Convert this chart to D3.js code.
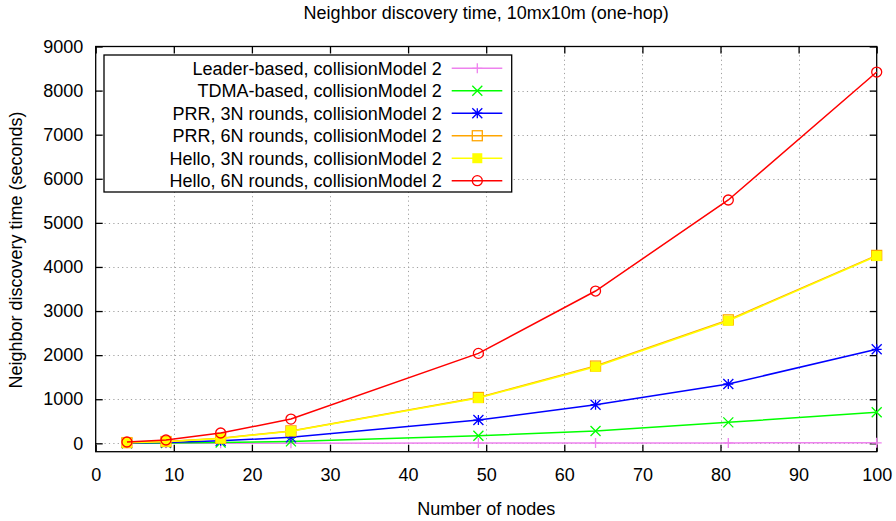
<!DOCTYPE html>
<html>
<head>
<meta charset="utf-8">
<script src="https://cdn.jsdelivr.net/npm/d3@7/dist/d3.min.js"></script>
<style>
  html, body { margin: 0; padding: 0; background: #fff; }
  svg { display: block; }
  text { font-family: "Liberation Sans", Arial, sans-serif; fill: #000; }
</style>
</head>
<body>
<svg id="chart" width="896" height="521"></svg>
<script>
// Number of nodes (square grids 2x2 ... 10x10)
const nodes = [4, 9, 16, 25, 49, 64, 81, 100];

// Discovery time in seconds for each protocol
const leaderBased = [1, 2, 3, 4, 6, 8, 10, 12];
const tdmaBased   = [2, 6, 18, 44, 170, 280, 476, 703];
const prr3N       = [8, 20, 56, 135, 528, 876, 1345, 2132];
const prr6N       = [16, 40, 115, 282, 1040, 1752, 2800, 4262];
const hello3N     = [15, 38, 110, 275, 1027, 1737, 2781, 4248];
const hello6N     = [30, 75, 234, 550, 2040, 3454, 5519, 8421];

const seriesNames = [
  "Leader-based, collisionModel 2",
  "TDMA-based, collisionModel 2",
  "PRR, 3N rounds, collisionModel 2",
  "PRR, 6N rounds, collisionModel 2",
  "Hello, 3N rounds, collisionModel 2",
  "Hello, 6N rounds, collisionModel 2"
];
const seriesValues = [leaderBased, tdmaBased, prr3N, prr6N, hello3N, hello6N];
const seriesColors = ["#ee82ee", "#00ff00", "#0000ff", "#ffa500", "#ffff00", "#ff0000"];
const seriesMarkers = ["plus", "cross", "star", "openSquare", "filledSquare", "openCircle"];

const xTicks = [0, 10, 20, 30, 40, 50, 60, 70, 80, 90, 100];
const yTicks = [0, 1000, 2000, 3000, 4000, 5000, 6000, 7000, 8000, 9000];

const titleText = "Neighbor discovery time, 10mx10m (one-hop)";
const xLabel = "Number of nodes";
const yLabel = "Neighbor discovery time (seconds)";

const svg = d3.select("#chart");
const plot = { left: 95.7, right: 876.7, top: 46.5, bottom: 451.7 };
const plotCenter = (plot.left + plot.right) / 2;

const x = d3.scaleLinear().domain([0, 100]).range([plot.left, plot.right]);
const y = d3.scaleLinear().domain([-190, 9000]).range([plot.bottom, plot.top]);

// dotted grid at the major ticks
const grid = svg.append("g").attr("stroke", "#a0a0a0").attr("stroke-width", 1)
  .attr("stroke-dasharray", "1.2,3.2");
grid.selectAll("line.gx").data(xTicks.slice(1, -1)).join("line")
  .attr("x1", d => Math.round(x(d)) + 0.5).attr("x2", d => Math.round(x(d)) + 0.5)
  .attr("y1", plot.top).attr("y2", plot.bottom);
grid.selectAll("line.gy").data(yTicks.slice(0, -1)).join("line")
  .attr("y1", d => Math.round(y(d)) + 0.5).attr("y2", d => Math.round(y(d)) + 0.5)
  .attr("x1", plot.left).attr("x2", plot.right);

// axes with inward ticks, mirrored on the opposite sides
const tickLen = 7;
const fontSize = 18;
const fmt = d3.format("d");
const xAxis = d3.axisBottom(x).tickValues(xTicks).tickFormat(fmt).tickSizeInner(-tickLen).tickSizeOuter(0).tickPadding(16.5);
const yAxis = d3.axisLeft(y).tickValues(yTicks).tickFormat(fmt).tickSizeInner(-tickLen).tickSizeOuter(0).tickPadding(12.5);
const xTop = d3.axisTop(x).tickValues(xTicks).tickSizeInner(-tickLen).tickSizeOuter(0).tickFormat("");
const yRight = d3.axisRight(y).tickValues(yTicks).tickSizeInner(-tickLen).tickSizeOuter(0).tickFormat("");

function styleAxis(g) {
  g.select(".domain").remove();
  g.selectAll(".tick line").attr("stroke", "#000").attr("stroke-width", 1.3);
  g.selectAll(".tick text").attr("font-size", fontSize)
    .attr("font-family", "Liberation Sans, Arial, sans-serif").attr("fill", "#000");
}
svg.append("g").attr("transform", `translate(0,${plot.bottom})`).call(xAxis).call(styleAxis);
svg.append("g").attr("transform", `translate(${plot.left},0)`).call(yAxis).call(styleAxis);
svg.append("g").attr("transform", `translate(0,${plot.top})`).call(xTop).call(styleAxis);
svg.append("g").attr("transform", `translate(${plot.right},0)`).call(yRight).call(styleAxis);

// plot border
svg.append("rect")
  .attr("x", plot.left).attr("y", plot.top)
  .attr("width", plot.right - plot.left).attr("height", plot.bottom - plot.top)
  .attr("fill", "none").attr("stroke", "#000").attr("stroke-width", 1.3);

// point symbols
function drawMarker(g, type, cx, cy, color) {
  const s = 5;
  if (type === "plus") {
    g.append("path").attr("d", `M${cx - s},${cy}H${cx + s}M${cx},${cy - s}V${cy + s}`)
      .attr("stroke", color).attr("stroke-width", 1.3).attr("fill", "none");
  } else if (type === "cross") {
    g.append("path").attr("d", `M${cx - s},${cy - s}L${cx + s},${cy + s}M${cx - s},${cy + s}L${cx + s},${cy - s}`)
      .attr("stroke", color).attr("stroke-width", 1.3).attr("fill", "none");
  } else if (type === "star") {
    g.append("path").attr("d",
      `M${cx - s},${cy}H${cx + s}M${cx},${cy - s}V${cy + s}M${cx - s},${cy - s}L${cx + s},${cy + s}M${cx - s},${cy + s}L${cx + s},${cy - s}`)
      .attr("stroke", color).attr("stroke-width", 1.3).attr("fill", "none");
  } else if (type === "openSquare") {
    g.append("rect").attr("x", cx - s).attr("y", cy - s).attr("width", 2 * s).attr("height", 2 * s)
      .attr("stroke", color).attr("stroke-width", 1.3).attr("fill", "none");
  } else if (type === "filledSquare") {
    g.append("rect").attr("x", cx - s).attr("y", cy - s).attr("width", 2 * s).attr("height", 2 * s)
      .attr("fill", color);
  } else if (type === "openCircle") {
    g.append("circle").attr("cx", cx).attr("cy", cy).attr("r", s)
      .attr("stroke", color).attr("stroke-width", 1.3).attr("fill", "none");
  }
}

// series lines and points
const line = d3.line().x(d => x(d[0])).y(d => y(d[1]));
seriesValues.forEach((vals, i) => {
  const pts = nodes.map((n, j) => [n, vals[j]]);
  const g = svg.append("g");
  g.append("path").datum(pts).attr("d", line)
    .attr("fill", "none").attr("stroke", seriesColors[i]).attr("stroke-width", 1.5);
  pts.forEach(p => drawMarker(g, seriesMarkers[i], x(p[0]), y(p[1]), seriesColors[i]));
});

// legend
const legend = { left: 104, top: 55, right: 511.7, bottom: 192 };
svg.append("rect")
  .attr("x", legend.left).attr("y", legend.top)
  .attr("width", legend.right - legend.left).attr("height", legend.bottom - legend.top)
  .attr("fill", "#fff").attr("stroke", "#000").attr("stroke-width", 1.3);
const rowY = d3.scaleLinear().domain([0, 5]).range([68.3, 180.7]);
seriesNames.forEach((name, i) => {
  const cy = rowY(i);
  svg.append("text").attr("x", 441.7).attr("y", cy).attr("dy", "0.35em")
    .attr("text-anchor", "end").attr("font-size", fontSize).text(name);
  const g = svg.append("g");
  g.append("line").attr("x1", 451.7).attr("x2", 502.3).attr("y1", cy).attr("y2", cy)
    .attr("stroke", seriesColors[i]).attr("stroke-width", 1.5);
  drawMarker(g, seriesMarkers[i], 477.3, cy, seriesColors[i]);
});

// titles
svg.append("text").attr("x", plotCenter).attr("y", 13).attr("dy", "0.35em")
  .attr("text-anchor", "middle").attr("font-size", fontSize).text(titleText);
svg.append("text").attr("x", plotCenter).attr("y", 509).attr("dy", "0.35em")
  .attr("text-anchor", "middle").attr("font-size", fontSize).text(xLabel);
svg.append("text").attr("transform", "translate(16,250) rotate(-90)").attr("dy", "0.35em")
  .attr("text-anchor", "middle").attr("font-size", fontSize).text(yLabel);
</script>
</body>
</html>
